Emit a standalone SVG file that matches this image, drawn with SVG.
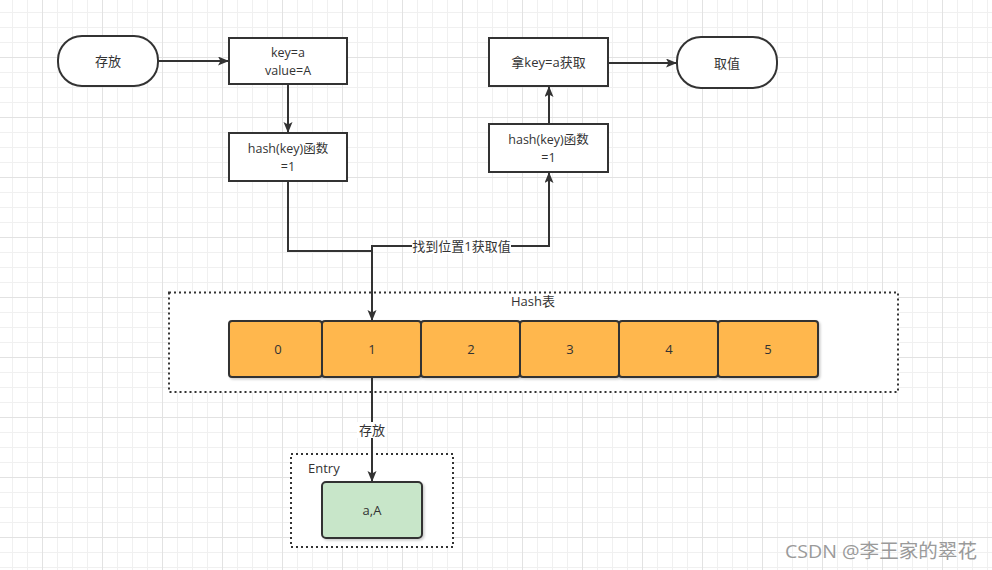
<svg xmlns="http://www.w3.org/2000/svg" width="992" height="570" viewBox="0 0 992 570">
<defs>
<pattern id="minor" x="12" y="12" width="15" height="15" patternUnits="userSpaceOnUse">
<path d="M0.5,0 V15 M0,0.5 H15" stroke="#f0f0f0" stroke-width="1" fill="none"/>
</pattern>
<pattern id="major" x="42" y="57" width="60" height="60" patternUnits="userSpaceOnUse">
<path d="M0.5,0 V60 M0,0.5 H60" stroke="#e2e2e2" stroke-width="1" fill="none"/>
</pattern>
<marker id="arr" markerWidth="12" markerHeight="10" refX="10" refY="4.5" orient="auto" markerUnits="userSpaceOnUse">
<path d="M0,0 L11,4.5 L0,9 L2.5,4.5 Z" fill="#333"/>
</marker>
<filter id="sh" x="-10%" y="-10%" width="130%" height="130%">
<feDropShadow dx="1.5" dy="1.5" stdDeviation="1" flood-color="#000" flood-opacity="0.2"/>
</filter>
</defs>
<style>
text{font-family:"Open Sans","Noto Sans CJK SC","Liberation Sans",sans-serif;font-size:13px;fill:#333;text-anchor:middle;dominant-baseline:central}
.two{font-size:12.5px}
.box{fill:#fff;stroke:#333;stroke-width:2}
.cell{fill:#FFB74D;stroke:#333;stroke-width:2;filter:url(#sh)}
.entry{fill:#C8E6C9;stroke:#333;stroke-width:2;filter:url(#sh)}
.cont{fill:#fff;stroke:#333;stroke-width:2;stroke-dasharray:2 3}
.edge{fill:none;stroke:#333;stroke-width:2}
.lbl{fill:#fff}
.wm{font-size:19px;fill:#9a9a9a;text-anchor:start}
</style>
<rect width="992" height="570" fill="#fff"/>
<rect width="992" height="570" fill="url(#minor)"/>
<rect width="992" height="570" fill="url(#major)"/>

<g id="hash-container">
<rect class="cont" x="169" y="292.5" width="729" height="99.5"/>
<text x="533" y="301">Hash表</text>
</g>
<g id="entry-container">
<rect class="cont" x="291" y="454" width="162" height="93"/>
<text x="308" y="468" style="text-anchor:start">Entry</text>
</g>

<g id="store">
<rect class="box" x="58" y="36" width="100" height="50" rx="24"/>
<text x="108" y="61">存放</text>
</g>
<g id="kv">
<rect class="box" x="229" y="38" width="118" height="46"/>
<text class="two" x="288" y="52.5">key=a</text>
<text class="two" x="288" y="70">value=A</text>
</g>
<g id="hash-left">
<rect class="box" x="229" y="133" width="118" height="48"/>
<text class="two" x="288" y="148">hash(key)函数</text>
<text class="two" x="288" y="166">=1</text>
</g>
<g id="get-key">
<rect class="box" x="489" y="38" width="119" height="48"/>
<text x="548.5" y="62">拿key=a获取</text>
</g>
<g id="fetch">
<rect class="box" x="677" y="37" width="100" height="51" rx="24"/>
<text x="727" y="62.5">取值</text>
</g>
<g id="hash-right">
<rect class="box" x="489" y="124" width="119" height="48"/>
<text class="two" x="548.5" y="139">hash(key)函数</text>
<text class="two" x="548.5" y="157">=1</text>
</g>

<g id="cell0"><rect class="cell" x="229" y="321" width="93" height="56" rx="3"/><text x="278" y="349">0</text></g>
<g id="cell1"><rect class="cell" x="322" y="321" width="99" height="56" rx="3"/><text x="372" y="349">1</text></g>
<g id="cell2"><rect class="cell" x="421" y="321" width="99" height="56" rx="3"/><text x="471" y="349">2</text></g>
<g id="cell3"><rect class="cell" x="520" y="321" width="99" height="56" rx="3"/><text x="570" y="349">3</text></g>
<g id="cell4"><rect class="cell" x="619" y="321" width="99" height="56" rx="3"/><text x="669" y="349">4</text></g>
<g id="cell5"><rect class="cell" x="718" y="321" width="100" height="56" rx="3"/><text x="768" y="349">5</text></g>

<g id="entry-aA">
<rect class="entry" x="322" y="482" width="100" height="56" rx="4"/>
<text x="372" y="510">a,A</text>
</g>

<g id="connectors">
<path class="edge" d="M158,61 H228" marker-end="url(#arr)"/>
<path class="edge" d="M288,84 V132" marker-end="url(#arr)"/>
<path class="edge" d="M288,181 V251 H372 V320" marker-end="url(#arr)"/>
<path class="edge" d="M372,320 V246 H549 V173" marker-end="url(#arr)"/>
<path class="edge" d="M549,124 V87" marker-end="url(#arr)"/>
<path class="edge" d="M608,63 H676" marker-end="url(#arr)"/>
<path class="edge" d="M372,377 V481" marker-end="url(#arr)"/>
<rect class="lbl" x="412" y="238" width="99" height="16"/>
<text x="461.5" y="246">找到位置1获取值</text>
<rect class="lbl" x="357" y="422" width="30" height="16"/>
<text x="372" y="430">存放</text>
</g>

<text class="wm" x="785" y="551" textLength="192" lengthAdjust="spacingAndGlyphs">CSDN @李王家的翠花</text>
</svg>
